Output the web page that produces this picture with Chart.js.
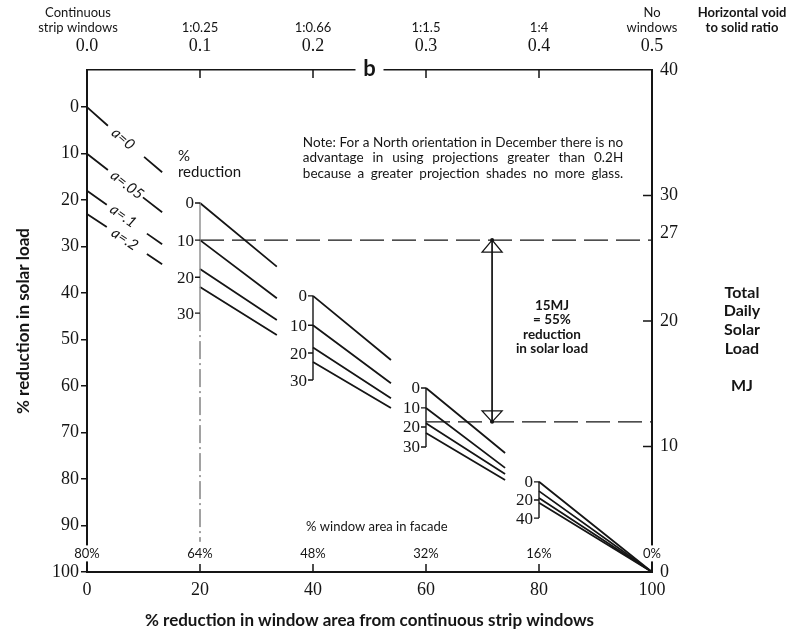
<!DOCTYPE html>
<html>
<head>
<meta charset="utf-8">
<script src="https://cdn.jsdelivr.net/npm/chart.js@4.4.0/dist/chart.umd.min.js"></script>
<style>
  html, body { margin: 0; padding: 0; background: #fff; }
</style>
</head>
<body>
<canvas id="solarChart" width="803" height="633"></canvas>
<script>
// x (% reduction in window area) where each group of lines starts and ends
const groupStartX = [0, 20, 40, 60, 80];
const groupEndX = [13.3, 33.6, 53.8, 74, 100];

// % reduction in solar load at the start / end of each group, one pair per curve
const curveNames = ['a=0', 'a=.05', 'a=.1', 'a=.2'];
const startA0 = [0, 20.6, 40.6, 60.4, 80.6];
const endA0 = [14.0, 34.3, 54.4, 74.4, 100];
const startA05 = [10, 28.6, 46.9, 64.7, 82.6];
const endA05 = [22.6, 41.1, 59.4, 77.6, 100];
const startA1 = [18, 34.8, 51.7, 68.0, 84.1];
const endA1 = [29.5, 45.8, 62.6, 78.9, 100];
const startA2 = [23, 38.7, 54.8, 70.1, 85.1];
const endA2 = [33.8, 49.0, 64.7, 80.2, 100];

// the first group is broken where the "a=" label sits
const labelGapStartX = [3.7, 3.7, 3.5, 3.5];
const labelGapStartY = [4.0, 13.5, 21.0, 25.8];
const labelGapEndX = [10.1, 9.9, 10.6, 10.6];
const labelGapEndY = [10.7, 19.4, 27.2, 31.6];
const curveLabelX = [6.4, 7.1, 6.4, 6.7];
const curveLabelY = [6.8, 16.7, 23.4, 28.4];

// small "% reduction" scales at the start of each later group
const miniAxisX = [20, 40, 60, 80];
const miniTickText = [['0', '10', '20', '30'], ['0', '10', '20', '30'], ['0', '10', '20', '30'], ['0', '20', '40']];
const miniTickY = [[20.6, 28.6, 36.6, 44.3], [40.6, 46.9, 52.9, 58.7], [60.4, 64.7, 68.8, 73.1], [80.6, 84.5, 88.4]];

// worked example: 27 MJ down to 12 MJ
const highLoadY = 28.6;
const lowLoadY = 67.7;
const highLoadFromX = 20;
const lowLoadFromX = 60;
const arrowX = 71.7;
const guideX = 20;
const guideFromY = 44.3;
const guideToY = 93.5;

// axes
const leftTicks = [0, 10, 20, 30, 40, 50, 60, 70, 80, 90, 100];
const bottomTicks = [0, 20, 40, 60, 80, 100];
const rightTicks = [0, 10, 20, 27, 30, 40];
const rightInnerTicks = [10, 20, 30];
const voidRatioTicks = [0, 0.1, 0.2, 0.3, 0.4, 0.5];
const voidRatioNames = [['Continuous', 'strip windows'], ['1:0.25'], ['1:0.66'], ['1:1.5'], ['1:4'], ['No', 'windows']];
const facadeX = [0, 20, 40, 60, 80, 100];
const facadeLabels = ['80%', '64%', '48%', '32%', '16%', '0%'];
const facadeRowY = 96;

const noteLines = [
  'Note: For a North orientation in December there is no',
  'advantage in using projections greater than 0.2H',
  'because a greater projection shades no more glass.'
];
const noteFromX = 38.2, noteToX = 94.9;
const noteLineY = [7.7, 10.9, 14.2];
const exampleLines = ['15MJ', '= 55%', 'reduction', 'in solar load'];
const exampleX = 82.3;
const exampleLineY = [42.6, 45.8, 49.0, 52.0];

const sans = 'Lato, "Open Sans", sans-serif';
const serif = '"Liberation Serif", "DejaVu Serif", serif';
const ink = '#151515';

function curveData(i, starts, ends) {
  const pts = [
    {x: groupStartX[0], y: starts[0]},
    {x: labelGapStartX[i], y: labelGapStartY[i]},
    {x: labelGapStartX[i], y: null},
    {x: labelGapEndX[i], y: labelGapEndY[i]},
    {x: groupEndX[0], y: ends[0]},
    {x: groupEndX[0], y: null}
  ];
  for (let g = 1; g < groupStartX.length; g++) {
    pts.push({x: groupStartX[g], y: starts[g]}, {x: groupEndX[g], y: ends[g]}, {x: groupEndX[g], y: null});
  }
  return pts;
}

const base = {showLine: true, pointRadius: 0, borderColor: ink, borderWidth: 1.8, fill: false, spanGaps: false, clip: false};
const curves = [[startA0, endA0], [startA05, endA05], [startA1, endA1], [startA2, endA2]];

const datasets = curves.map((c, i) => Object.assign({}, base, {label: curveNames[i], data: curveData(i, c[0], c[1])}));
datasets.push(Object.assign({}, base, {label: '27MJ', borderWidth: 1.2, borderDash: [24, 8],
  data: [{x: highLoadFromX, y: highLoadY}, {x: 100, y: highLoadY}]}));
datasets.push(Object.assign({}, base, {label: '12MJ', borderWidth: 1.2, borderDash: [24, 8],
  data: [{x: lowLoadFromX, y: lowLoadY}, {x: 100, y: lowLoadY}]}));
datasets.push(Object.assign({}, base, {label: 'guide', borderWidth: 1, borderColor: '#444', borderDash: [18, 4, 2, 4],
  data: [{x: guideX, y: guideFromY}, {x: guideX, y: guideToY}]}));
datasets.push(Object.assign({}, base, {label: 'arrow', borderWidth: 1,
  data: [{x: arrowX, y: highLoadY}, {x: arrowX, y: lowLoadY}]}));

function drawJustified(ctx, text, x0, x1, y) {
  const words = text.split(' ');
  const used = words.reduce((s, w) => s + ctx.measureText(w).width, 0);
  const gap = (x1 - x0 - used) / (words.length - 1);
  let cx = x0;
  words.forEach(w => { ctx.fillText(w, cx, y); cx += ctx.measureText(w).width + gap; });
}

const diagramPlugin = {
  id: 'diagram',
  beforeDatasetsDraw(chart) {
    const {ctx, chartArea, scales: {x, y, x2}} = chart;
    ctx.save();
    // gap in the top frame for "b"
    const bx = x2.getPixelForValue(0.25);
    ctx.fillStyle = '#fff';
    ctx.fillRect(bx - 14, chartArea.top - 4, 28, 9);
    ctx.fillStyle = ink;
    ctx.font = `bold 22px ${sans}`;
    ctx.textAlign = 'center';
    ctx.textBaseline = 'middle';
    ctx.fillText('b', bx, chartArea.top - 1);

    // % window area in facade
    ctx.font = `13px ${sans}`;
    facadeX.forEach((v, i) => {
      const px = x.getPixelForValue(v), py = y.getPixelForValue(facadeRowY);
      const w = ctx.measureText(facadeLabels[i]).width;
      ctx.fillStyle = '#fff';
      ctx.fillRect(px - w / 2 - 2, py - 8, w + 4, 16);
      ctx.fillStyle = ink;
      ctx.fillText(facadeLabels[i], px, py);
    });
    ctx.restore();
  },
  afterDatasetsDraw(chart) {
    const {ctx, chartArea, scales: {x, y, x2, y2}} = chart;
    ctx.save();
    ctx.strokeStyle = ink;
    ctx.fillStyle = ink;
    ctx.lineWidth = 1.5;

    // inward ticks on bottom, top and right edges
    ctx.beginPath();
    bottomTicks.slice(1, -1).forEach(v => {
      const px = x.getPixelForValue(v);
      ctx.moveTo(px, chartArea.bottom); ctx.lineTo(px, chartArea.bottom - 8);
    });
    voidRatioTicks.slice(1, -1).forEach(v => {
      const px = x2.getPixelForValue(v);
      ctx.moveTo(px, chartArea.top); ctx.lineTo(px, chartArea.top + 8);
    });
    rightInnerTicks.forEach(v => {
      const py = y2.getPixelForValue(v);
      ctx.moveTo(chartArea.right, py); ctx.lineTo(chartArea.right - 9, py);
    });
    ctx.stroke();

    // small scales
    ctx.font = `17px ${serif}`;
    ctx.textAlign = 'right';
    ctx.textBaseline = 'middle';
    miniAxisX.forEach((v, i) => {
      const px = x.getPixelForValue(v);
      const ys = miniTickY[i].map(t => y.getPixelForValue(t));
      ctx.lineWidth = 1.4;
      ctx.strokeStyle = i === 0 ? '#8a8a8a' : ink;
      ctx.beginPath();
      ctx.moveTo(px, ys[0]); ctx.lineTo(px, ys[ys.length - 1]);
      ctx.stroke();
      ctx.strokeStyle = ink;
      ctx.beginPath();
      ys.forEach(py => { ctx.moveTo(px - 5, py); ctx.lineTo(px, py); });
      ctx.stroke();
      ys.forEach((py, k) => ctx.fillText(miniTickText[i][k], px - 6, py + 1));
    });

    // a= labels laid along their curves
    ctx.font = `italic 15px ${sans}`;
    ctx.textAlign = 'center';
    curves.forEach((c, i) => {
      const ang = Math.atan2(y.getPixelForValue(c[1][0]) - y.getPixelForValue(c[0][0]),
        x.getPixelForValue(groupEndX[0]) - x.getPixelForValue(groupStartX[0]));
      ctx.save();
      ctx.translate(x.getPixelForValue(curveLabelX[i]), y.getPixelForValue(curveLabelY[i]));
      ctx.rotate(ang);
      ctx.fillText(curveNames[i], 0, 0);
      ctx.restore();
    });

    // open arrow heads of the 15 MJ span
    const ax = x.getPixelForValue(arrowX);
    const yt = y.getPixelForValue(highLoadY), yb = y.getPixelForValue(lowLoadY);
    ctx.lineWidth = 1.3;
    ctx.beginPath();
    ctx.moveTo(ax, yt); ctx.lineTo(ax - 10, yt + 12); ctx.lineTo(ax + 10, yt + 12); ctx.closePath();
    ctx.moveTo(ax, yb); ctx.lineTo(ax - 10, yb - 11); ctx.lineTo(ax + 10, yb - 11); ctx.closePath();
    ctx.stroke();
    ctx.beginPath();
    ctx.arc(ax, yt, 2, 0, Math.PI * 2);
    ctx.arc(ax, yb, 2, 0, Math.PI * 2);
    ctx.fill();

    // text in the plot
    ctx.font = `15px ${sans}`;
    ctx.textAlign = 'left';
    ctx.fillText('%', x.getPixelForValue(16.1), y.getPixelForValue(10.5));
    ctx.fillText('reduction', x.getPixelForValue(16.1), y.getPixelForValue(13.9));

    ctx.font = `13.5px ${sans}`;
    noteLines.forEach((t, i) => drawJustified(ctx, t, x.getPixelForValue(noteFromX), x.getPixelForValue(noteToX), y.getPixelForValue(noteLineY[i])));

    ctx.font = `bold 13.5px ${sans}`;
    ctx.textAlign = 'center';
    exampleLines.forEach((t, i) => ctx.fillText(t, x.getPixelForValue(exampleX), y.getPixelForValue(exampleLineY[i])));

    ctx.font = `13px ${sans}`;
    ctx.fillText('% window area in facade', x.getPixelForValue(51.3), y.getPixelForValue(90.3));

    // names above the void ratio scale
    ctx.font = `13px ${sans}`;
    voidRatioNames.forEach((lines, i) => {
      const px = x2.getPixelForValue(voidRatioTicks[i]) - (i === 0 ? 9 : 0);
      lines.forEach((t, k) => ctx.fillText(t, px, 28 - (lines.length - 1 - k) * 15));
    });
    const sideX = chartArea.right + 90;
    ctx.font = `bold 13px ${sans}`;
    ctx.fillText('Horizontal void', sideX, 13);
    ctx.fillText('to solid ratio', sideX, 28);

    ctx.font = `bold 16px ${sans}`;
    [['Total', 293], ['Daily', 311], ['Solar', 330], ['Load', 349], ['MJ', 386]].forEach(([t, py]) => ctx.fillText(t, sideX, py));
    ctx.restore();
  }
};

new Chart(document.getElementById('solarChart'), {
  type: 'scatter',
  data: {datasets: datasets},
  plugins: [diagramPlugin],
  options: {
    responsive: false,
    animation: false,
    events: [],
    layout: {padding: 0},
    plugins: {legend: {display: false}, tooltip: {enabled: false}},
    scales: {
      x: {
        type: 'linear', position: 'bottom', min: 0, max: 100,
        afterBuildTicks: s => { s.ticks = bottomTicks.map(v => ({value: v})); },
        afterFit: s => { s.height = 61; },
        grid: {display: false, drawTicks: false},
        border: {display: true, color: ink, width: 2},
        ticks: {color: ink, font: {family: serif, size: 18}, padding: 7, maxRotation: 0, autoSkip: false},
        title: {display: true, text: '% reduction in window area from continuous strip windows', color: ink,
          font: {family: sans, size: 17, weight: 'bold'}, padding: {top: 0, bottom: 2}}
      },
      x2: {
        type: 'linear', position: 'top', min: 0, max: 0.5,
        afterBuildTicks: s => { s.ticks = voidRatioTicks.map(v => ({value: v})); },
        afterFit: s => { s.height = 70; },
        grid: {display: false, drawTicks: false},
        border: {display: true, color: ink, width: 1.5},
        ticks: {color: ink, font: {family: serif, size: 18}, padding: 13, maxRotation: 0, autoSkip: false,
          callback: v => v.toFixed(1)}
      },
      y: {
        type: 'linear', position: 'left', reverse: true, min: -8, max: 100,
        afterBuildTicks: s => { s.ticks = leftTicks.map(v => ({value: v})); },
        afterFit: s => { s.width = 87; },
        grid: {drawOnChartArea: false, drawTicks: true, tickLength: 6, color: ink, lineWidth: 1.5},
        border: {display: true, color: ink, width: 2},
        ticks: {color: ink, font: {family: serif, size: 18}, padding: 2, autoSkip: false},
        title: {display: true, text: '% reduction in solar load', color: ink,
          font: {family: sans, size: 17, weight: 'bold'}, padding: {top: 13, bottom: 0}}
      },
      y2: {
        type: 'linear', position: 'right', min: 0, max: 40,
        afterBuildTicks: s => { s.ticks = rightTicks.map(v => ({value: v})); },
        afterFit: s => { s.width = 151; },
        grid: {display: false, drawTicks: false},
        border: {display: true, color: ink, width: 2},
        ticks: {color: ink, font: {family: serif, size: 18}, padding: 8, autoSkip: false}
      }
    }
  }
});
</script>
</body>
</html>
